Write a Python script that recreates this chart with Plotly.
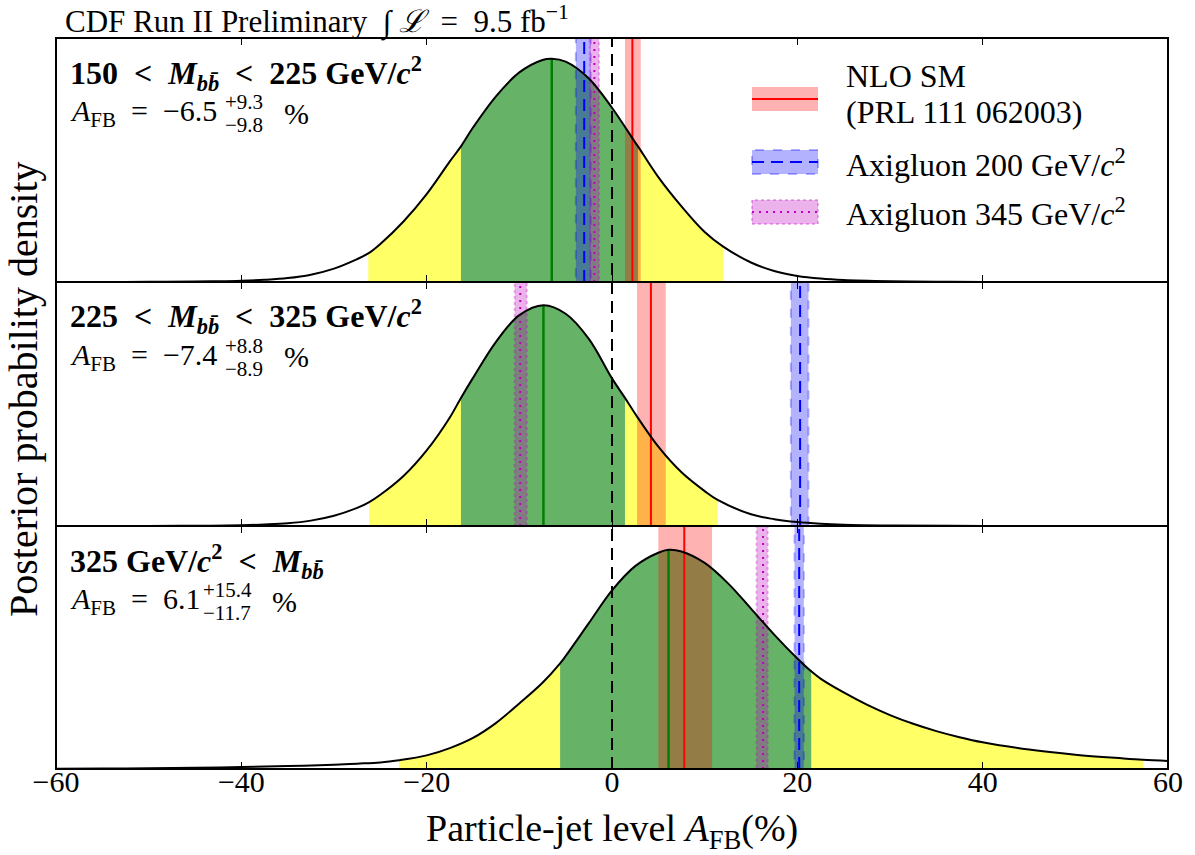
import plotly.graph_objects as go
from plotly.subplots import make_subplots

# ---------------- data ----------------
x_ticks = [-60, -40, -20, 0, 20, 40, 60]
x_ticklabels = ["\u221260", "\u221240", "\u221220", "0", "20", "40", "60"]

# panel 1 : 150 < M < 225  (density as fraction of panel height)
p1_x = [-60, -55, -50, -45, -42.5, -40, -37.5, -35, -32.5, -30, -27.5, -26.3, -25, -22.5, -20, -17.5, -16.3, -15,
        -12.5, -10, -7.5, -6.5, -5, -2.5, 0, 2.5, 2.8, 5, 7.5, 10, 12.0, 15, 17.5, 20, 22.5, 25, 30, 35, 40, 50, 60]
p1_y = [0.0, 0.0003, 0.0008, 0.002, 0.003, 0.005, 0.009, 0.016, 0.030, 0.055, 0.094, 0.117, 0.156, 0.248, 0.36,
        0.494, 0.556, 0.633, 0.762, 0.859, 0.91, 0.915, 0.903, 0.834, 0.714, 0.572, 0.556, 0.43, 0.31, 0.205, 0.145,
        0.08, 0.045, 0.025, 0.014, 0.008, 0.003, 0.001, 0.0005, 0.0, 0.0]
p1_mode = -6.5
p1_int68 = [-16.3, 2.8]
p1_int95 = [-26.3, 12.0]
p1_sm = [1.4, 3.1, 2.2]        # band low, band high, central
p1_ax200 = [-3.9, -2.3, -3.0]
p1_ax345 = [-2.4, -1.4, -1.9]

# panel 2 : 225 < M < 325
p2_x = [-60, -50, -45, -40, -37.5, -35, -32.5, -30, -27.5, -26.2, -25, -22.5, -20, -17.5, -16.3, -15, -12.5, -10,
        -7.4, -5, -2.5, 0, 1.4, 2.5, 5, 7.5, 10, 11.4, 15, 17.5, 20, 22.5, 25, 30, 40, 50, 60]
p2_y = [0.0, 0.0005, 0.001, 0.003, 0.006, 0.011, 0.022, 0.042, 0.074, 0.098, 0.128, 0.205, 0.31, 0.445, 0.525,
        0.607, 0.756, 0.864, 0.905, 0.87, 0.767, 0.605, 0.525, 0.46, 0.325, 0.22, 0.143, 0.107, 0.048, 0.028, 0.016,
        0.009, 0.005, 0.002, 0.0003, 0.0, 0.0]
p2_mode = -7.4
p2_int68 = [-16.3, 1.4]
p2_int95 = [-26.2, 11.4]
p2_sm = [2.7, 5.8, 4.2]
p2_ax200 = [19.3, 21.2, 20.3]
p2_ax345 = [-10.5, -9.2, -9.9]

# panel 3 : 325 < M
p3_x = [-60, -55, -50, -45, -40, -35, -30, -27.5, -25, -23.0, -20, -17.5, -15, -12.5, -10, -7.5, -5.6, -5, -2.5, 0,
        2.5, 5, 6.1, 7.5, 10, 12.5, 15, 17.5, 20, 21.5, 22.5, 25, 27.5, 30, 32.5, 35, 37.5, 40, 45, 50, 55, 57.3, 60]
p3_y = [0.001, 0.002, 0.003, 0.005, 0.008, 0.012, 0.018, 0.022, 0.027, 0.036, 0.056, 0.086, 0.128, 0.19, 0.27, 0.355,
        0.435, 0.465, 0.60, 0.735, 0.835, 0.89, 0.902, 0.895, 0.848, 0.765, 0.66, 0.553, 0.455, 0.402, 0.372, 0.315,
        0.265, 0.222, 0.186, 0.156, 0.131, 0.110, 0.080, 0.059, 0.044, 0.038, 0.033]
p3_mode = 6.1
p3_int68 = [-5.6, 21.5]
p3_int95 = [-23.0, 57.3]
p3_sm = [5.0, 10.8, 7.8]
p3_ax200 = [19.7, 20.7, 20.2]
p3_ax345 = [15.6, 16.8, 16.3]

panel_titles = [
    "<b>150  &lt;  <i>M</i><sub><i>b</i><i>b\u0304</i></sub>  &lt;  225 GeV/<i>c</i><sup>2</sup></b>",
    "<b>225  &lt;  <i>M</i><sub><i>b</i><i>b\u0304</i></sub>  &lt;  325 GeV/<i>c</i><sup>2</sup></b>",
    "<b>325 GeV/<i>c</i><sup>2</sup>  &lt;  <i>M</i><sub><i>b</i><i>b\u0304</i></sub></b>",
]
afb_central = ["\u22126.5", "\u22127.4", "6.1"]
afb_up = ["+9.3", "+8.8", "+15.4"]
afb_down = ["\u22129.8", "\u22128.9", "\u221211.7"]

legend_labels = ["NLO SM", "(PRL 111 062003)", "Axigluon 200 GeV/<i>c</i><sup>2</sup>",
                 "Axigluon 345 GeV/<i>c</i><sup>2</sup>"]

# ---------------- figure ----------------
W, H = 1195, 855
L, R, T, B = 56, 1168, 38, 769
FONT = "Liberation Serif, Times New Roman, serif"


def pxx(px):
    return (px - L) / (R - L)


def pxy(py):
    return (B - py) / (B - T)


fig = make_subplots(rows=3, cols=1, shared_xaxes=True, vertical_spacing=0)

panels = [
    (p1_x, p1_y, p1_mode, p1_int68, p1_int95, p1_sm, p1_ax200, p1_ax345),
    (p2_x, p2_y, p2_mode, p2_int68, p2_int95, p2_sm, p2_ax200, p2_ax345),
    (p3_x, p3_y, p3_mode, p3_int68, p3_int95, p3_sm, p3_ax200, p3_ax345),
]

YELLOW = "rgb(255,255,102)"
GREEN_F = "rgb(102,178,102)"
RED_F = "rgba(255,0,0,0.3)"
BLUE_F = "rgba(0,0,255,0.3)"
MAG_F = "rgba(191,0,191,0.3)"
MAG = "rgb(191,0,191)"
DASH = "12px,7px"
DOT = "2px,5px"

for i, (xs, ys, mode, i68, i95, sm, a200, a345) in enumerate(panels):
    row = i + 1
    for (lo, hi), col in [(i95, YELLOW), (i68, GREEN_F)]:
        xa = [a for a in xs if lo <= a <= hi]
        ya = [b for a, b in zip(xs, ys) if lo <= a <= hi]
        fig.add_trace(go.Scatter(x=xa, y=ya, mode="lines", fill="tozeroy", fillcolor=col,
                                 line=dict(width=0, shape="spline", color=col), hoverinfo="skip",
                                 showlegend=False), row=row, col=1)
    # bands
    for band, fc, dash in [(sm, RED_F, "solid"), (a200, BLUE_F, "dash"), (a345, MAG_F, "dot")]:
        lo, hi, c = band
        fig.add_trace(go.Scatter(x=[lo, hi, hi, lo, lo], y=[0, 0, 1, 1, 0], mode="lines", fill="toself",
                                 fillcolor=fc,
                                 line=dict(width=(0 if dash == "solid" else 2), color=fc, dash=dash),
                                 hoverinfo="skip", showlegend=False), row=row, col=1)
    # central lines
    fig.add_trace(go.Scatter(x=[sm[2], sm[2]], y=[0, 1], mode="lines", line=dict(color="red", width=2),
                             hoverinfo="skip", showlegend=False), row=row, col=1)
    fig.add_trace(go.Scatter(x=[a200[2], a200[2]], y=[0, 1], mode="lines",
                             line=dict(color="blue", width=2, dash=DASH),
                             hoverinfo="skip", showlegend=False), row=row, col=1)
    fig.add_trace(go.Scatter(x=[a345[2], a345[2]], y=[0, 1], mode="lines",
                             line=dict(color=MAG, width=2, dash=DOT),
                             hoverinfo="skip", showlegend=False), row=row, col=1)
    # mode line
    peak = ys[xs.index(mode)]
    fig.add_trace(go.Scatter(x=[mode, mode], y=[0, peak], mode="lines", line=dict(color="green", width=2.5),
                             hoverinfo="skip", showlegend=False), row=row, col=1)
    # curve
    fig.add_trace(go.Scatter(x=xs, y=ys, mode="lines", line=dict(color="black", width=2, shape="spline"),
                             hoverinfo="skip", showlegend=False), row=row, col=1)

# zero dashed line across panels
fig.add_shape(type="line", xref="x3", yref="paper", x0=0, x1=0, y0=0, y1=1,
              line=dict(color="black", width=2, dash=DASH), layer="above")

# frame: outer box and panel separators
fig.add_shape(type="rect", xref="paper", yref="paper", x0=0, x1=1, y0=0, y1=1,
              line=dict(color="black", width=2), layer="above")
for py in [282, 526]:
    fig.add_shape(type="line", xref="paper", yref="paper", x0=0, x1=1, y0=pxy(py), y1=pxy(py),
                  line=dict(color="black", width=2), layer="above")

# axes
domains = [[pxy(282), 1.0], [pxy(526), pxy(282)], [0.0, pxy(526)]]
for i in range(3):
    ax = "xaxis" if i == 0 else f"xaxis{i + 1}"
    ay = "yaxis" if i == 0 else f"yaxis{i + 1}"
    fig.layout[ax].update(range=[-60, 60], tickmode="array", tickvals=x_ticks, ticktext=x_ticklabels,
                          ticks="inside", ticklen=7, tickwidth=1, tickcolor="black", mirror="ticks",
                          showline=False, showgrid=False, zeroline=False,
                          showticklabels=(i == 2), tickfont=dict(family=FONT, size=30, color="black"))
    if i == 2:
        fig.layout[ax].update(ticklabelstandoff=-8)
    fig.layout[ay].update(range=[0, 1], domain=domains[i], showticklabels=False, ticks="", showgrid=False,
                          zeroline=False, showline=False)

ann = []
panel_tops = [38, 282, 526]
for i in range(3):
    top = panel_tops[i]
    ann.append(dict(text=panel_titles[i], x=pxx(68), y=pxy(top + 35), xanchor="left", yanchor="middle",
                    font=dict(family=FONT, size=32, color="black")))
    ann.append(dict(text="<i>A</i><sub>FB</sub>  =  " + afb_central[i], x=pxx(68), y=pxy(top + 75),
                    xanchor="left", yanchor="middle", font=dict(family=FONT, size=30, color="black")))
ends = [223, 223, 201]
pct = [282, 282, 270]
for i in range(3):
    top = panel_tops[i]
    ann.append(dict(text=afb_up[i], x=pxx(ends[i]), y=pxy(top + 64), xanchor="left", yanchor="middle",
                    font=dict(family=FONT, size=21, color="black")))
    ann.append(dict(text=afb_down[i], x=pxx(ends[i]), y=pxy(top + 87), xanchor="left", yanchor="middle",
                    font=dict(family=FONT, size=21, color="black")))
    ann.append(dict(text="%", x=pxx(pct[i]), y=pxy(top + 75), xanchor="left", yanchor="middle",
                    font=dict(family=FONT, size=30, color="black")))

# title, axis titles
ann.append(dict(text="CDF Run II Preliminary  \u222B <i>\u2112</i>  =  9.5 fb<sup>\u22121</sup>", x=pxx(63),
                y=pxy(21), xanchor="left", yanchor="middle", font=dict(family=FONT, size=31, color="black")))
ann.append(dict(text="Particle-jet level <i>A</i><sub>FB</sub>(%)", x=pxx(612), y=pxy(831),
                xanchor="center", yanchor="middle", font=dict(family=FONT, size=38, color="black")))
ann.append(dict(text="Posterior probability density", x=pxx(24), y=pxy(389), textangle=-90,
                xanchor="center", yanchor="middle", font=dict(family=FONT, size=40, color="black")))

# legend (manual)
for txt, cy in zip(legend_labels, [76, 112, 163, 212]):
    ann.append(dict(text=txt, x=pxx(844), y=pxy(cy), xanchor="left", yanchor="middle",
                    font=dict(family=FONT, size=32, color="black")))

for a in ann:
    a.update(xref="paper", yref="paper", showarrow=False)
fig.update_layout(annotations=ann)

leg = [(99, RED_F, "solid", "red", "solid"), (162, BLUE_F, "dash", "blue", DASH),
       (212, MAG_F, "dot", MAG, DOT)]
for cy, fc, bdash, lc, ldash in leg:
    fig.add_shape(type="rect", xref="paper", yref="paper", x0=pxx(752), x1=pxx(818), y0=pxy(cy + 12),
                  y1=pxy(cy - 12), fillcolor=fc,
                  line=dict(width=(0 if bdash == "solid" else 2), color=fc, dash=bdash), layer="above")
    fig.add_shape(type="line", xref="paper", yref="paper", x0=pxx(752), x1=pxx(818), y0=pxy(cy), y1=pxy(cy),
                  line=dict(color=lc, width=2, dash=ldash), layer="above")

fig.update_layout(width=W, height=H, margin=dict(l=L, r=W - R, t=T, b=H - B),
                  plot_bgcolor="white", paper_bgcolor="white", showlegend=False,
                  font=dict(family=FONT, color="black"))

fig.write_html("out.html")
